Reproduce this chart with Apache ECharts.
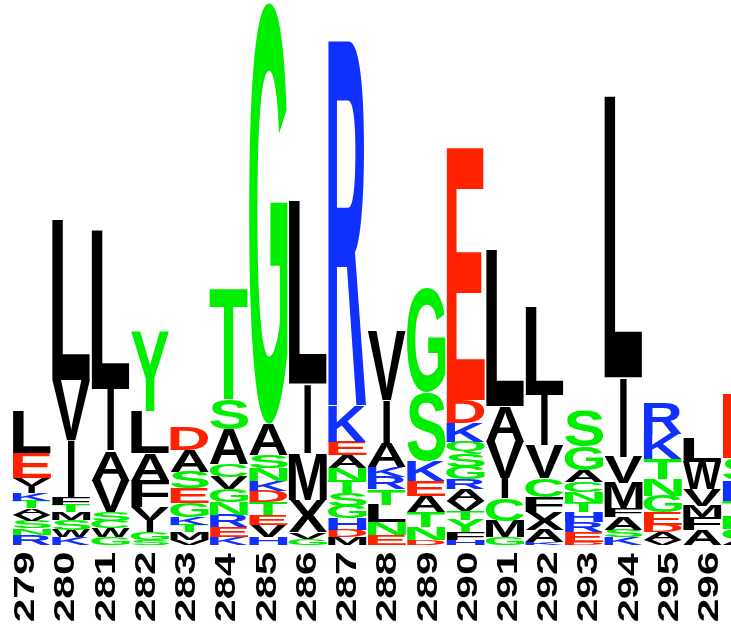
<!DOCTYPE html>
<html>
<head>
<meta charset="utf-8">
<script src="https://cdn.jsdelivr.net/npm/echarts@6/dist/echarts.min.js"></script>
<style>
  html, body { margin: 0; padding: 0; background: #fff; }
  #logo { width: 731px; height: 626px; }
</style>
</head>
<body>
<div id="logo"></div>
<script>
// alignment positions (297 is cut off at the right edge)
const positions = ['279', '280', '281', '282', '283', '284', '285', '286', '287',
  '288', '289', '290', '291', '292', '293', '294', '295', '296', '297'];
const tickLabels = positions.slice(0, 18);

// letters of each stack, top to bottom
const stackLetters = [
  'LEVIKTAVSNR', 'LVIFTMSWK', 'LIAVSCWG', 'YLAFVIGS', 'DASEGKTMV',
  'TSACVGNREK', 'GASNKDTEVH', 'LIMXVG', 'RKEANTSGHDM', 'VIAKRTLNE',
  'GSKEATND', 'EDKQSGRAVTYFH', 'LAVICMG', 'LIVCFXAK', 'SGACNTHRED',
  'LIVMFASK', 'RKTNGEDAV', 'LWVMFA', 'ESKTNGA'
];
// letter heights in bits, same order
const stackBits = [
  [0.33, 0.20, 0.06, 0.06, 0.06, 0.06, 0.05, 0.05, 0.06, 0.05, 0.08],
  [1.27, 0.48, 0.45, 0.06, 0.06, 0.06, 0.08, 0.06, 0.06],
  [1.26, 0.49, 0.24, 0.25, 0.07, 0.06, 0.07, 0.06],
  [0.63, 0.33, 0.22, 0.21, 0.10, 0.10, 0.06, 0.04],
  [0.18, 0.17, 0.13, 0.12, 0.11, 0.06, 0.06, 0.06, 0.04],
  [0.89, 0.24, 0.28, 0.10, 0.10, 0.10, 0.10, 0.10, 0.08, 0.06],
  [3.34, 0.25, 0.10, 0.10, 0.08, 0.09, 0.10, 0.08, 0.10, 0.06],
  [1.45, 0.55, 0.37, 0.26, 0.05, 0.05],
  [2.89, 0.29, 0.11, 0.10, 0.10, 0.10, 0.10, 0.10, 0.09, 0.06, 0.06],
  [0.55, 0.34, 0.19, 0.08, 0.10, 0.12, 0.14, 0.10, 0.08],
  [0.82, 0.54, 0.16, 0.12, 0.13, 0.12, 0.10, 0.04],
  [2.00, 0.18, 0.15, 0.10, 0.10, 0.10, 0.08, 0.09, 0.08, 0.07, 0.10, 0.06, 0.04],
  [1.24, 0.28, 0.29, 0.16, 0.18, 0.13, 0.06],
  [0.70, 0.40, 0.26, 0.15, 0.12, 0.14, 0.10, 0.02],
  [0.28, 0.19, 0.09, 0.08, 0.08, 0.08, 0.08, 0.08, 0.08, 0.02],
  [2.23, 0.63, 0.21, 0.20, 0.07, 0.10, 0.06, 0.06],
  [0.24, 0.20, 0.16, 0.13, 0.13, 0.10, 0.06, 0.06, 0.04],
  [0.19, 0.22, 0.13, 0.09, 0.10, 0.12],
  [0.51, 0.18, 0.16, 0.12, 0.10, 0.08, 0.05]
];

const colorGroups = [
  ['GSTYCNQ', '#00ee00'],
  ['KRH', '#1030ff'],
  ['DE', '#ff2200'],
  ['AVLIPWFMX', '#000000']
];
function letterColor(ch) {
  for (const [set, c] of colorGroups) if (set.indexOf(ch) >= 0) return c;
  return '#000';
}

// measure real glyph bounds so each letter can be stretched to its box
const FONT_SIZE = 100;
const FONT_FAMILY = '"Liberation Sans"';
const measureCtx = document.createElement('canvas').getContext('2d');
measureCtx.font = 'bold ' + FONT_SIZE + 'px ' + FONT_FAMILY;
measureCtx.textBaseline = 'middle';
measureCtx.textAlign = 'left';
const boxCache = {};
function glyphBox(str) {
  if (!boxCache[str]) {
    const m = measureCtx.measureText(str);
    boxCache[str] = {
      left: -m.actualBoundingBoxLeft,
      right: m.actualBoundingBoxRight,
      top: FONT_SIZE / 2 - m.actualBoundingBoxAscent,
      bottom: FONT_SIZE / 2 + m.actualBoundingBoxDescent
    };
  }
  return boxCache[str];
}
function textStyle(str, color) {
  return {
    text: str, fontSize: FONT_SIZE, fontWeight: 'bold', fontFamily: FONT_FAMILY,
    lineHeight: FONT_SIZE, align: 'left', verticalAlign: 'top', fill: color
  };
}
function fittedText(str, x0, y0, w, h, color) {
  const b = glyphBox(str);
  const sx = w / (b.right - b.left);
  const sy = h / (b.bottom - b.top);
  return {
    type: 'text', silent: true,
    x: x0 - sx * b.left, y: y0 - sy * b.top, scaleX: sx, scaleY: sy,
    style: textStyle(str, color)
  };
}
// text reading bottom-to-top, fitted into a thick x len box
function rotatedText(str, cx, yBottom, thick, len, color) {
  const b = glyphBox(str);
  const sx = len / (b.right - b.left);
  const sy = thick / (b.bottom - b.top);
  return {
    type: 'text', silent: true, rotation: Math.PI / 2,
    x: cx - thick / 2 - sy * b.top, y: yBottom + sx * b.left, scaleX: sx, scaleY: sy,
    style: textStyle(str, color)
  };
}

function renderStack(params, api) {
  const i = api.value(0);
  const bw = api.size([1, 0])[0];
  const cx = api.coord([i, 0])[0];
  const letters = stackLetters[i];
  const bits = stackBits[i];
  const children = [];
  let base = 0;
  for (let k = letters.length - 1; k >= 0; k--) {
    const ch = letters[k];
    const yb = api.coord([i, base])[1];
    const yt = api.coord([i, base + bits[k]])[1];
    // the I is kept as a thin bar, the others fill the column
    const w = ch === 'I' ? bw * 0.18 : bw - 1;
    children.push(fittedText(ch, cx - w / 2, yt, w, yb - yt, letterColor(ch)));
    base += bits[k];
  }
  return { type: 'group', children: children };
}

function renderLabel(params, api) {
  const i = api.value(0);
  const bottom = api.coord([i, 0]);
  const top = api.coord([i, 1]);
  return rotatedText(tickLabels[i], bottom[0], bottom[1], 21, bottom[1] - top[1], '#000');
}

const chart = echarts.init(document.getElementById('logo'));
chart.setOption({
  animation: false,
  grid: [
    { left: 12, width: 749.4, top: 0, bottom: 81, outerBoundsMode: 'none', containLabel: false },
    { left: 3.9, width: 724.2, top: 553, height: 68, outerBoundsMode: 'none', containLabel: false }
  ],
  xAxis: [
    { type: 'category', gridIndex: 0, data: positions, show: false },
    { type: 'category', gridIndex: 1, data: tickLabels, show: false }
  ],
  yAxis: [
    { type: 'value', gridIndex: 0, min: 0, max: 4.32, show: false },
    { type: 'value', gridIndex: 1, min: 0, max: 1, show: false }
  ],
  series: [
    {
      type: 'custom', xAxisIndex: 0, yAxisIndex: 0,
      data: positions.map((p, i) => [i, 0]),
      renderItem: renderStack
    },
    {
      type: 'custom', xAxisIndex: 1, yAxisIndex: 1,
      data: tickLabels.map((p, i) => [i, 0]),
      renderItem: renderLabel
    }
  ]
});
</script>
</body>
</html>
